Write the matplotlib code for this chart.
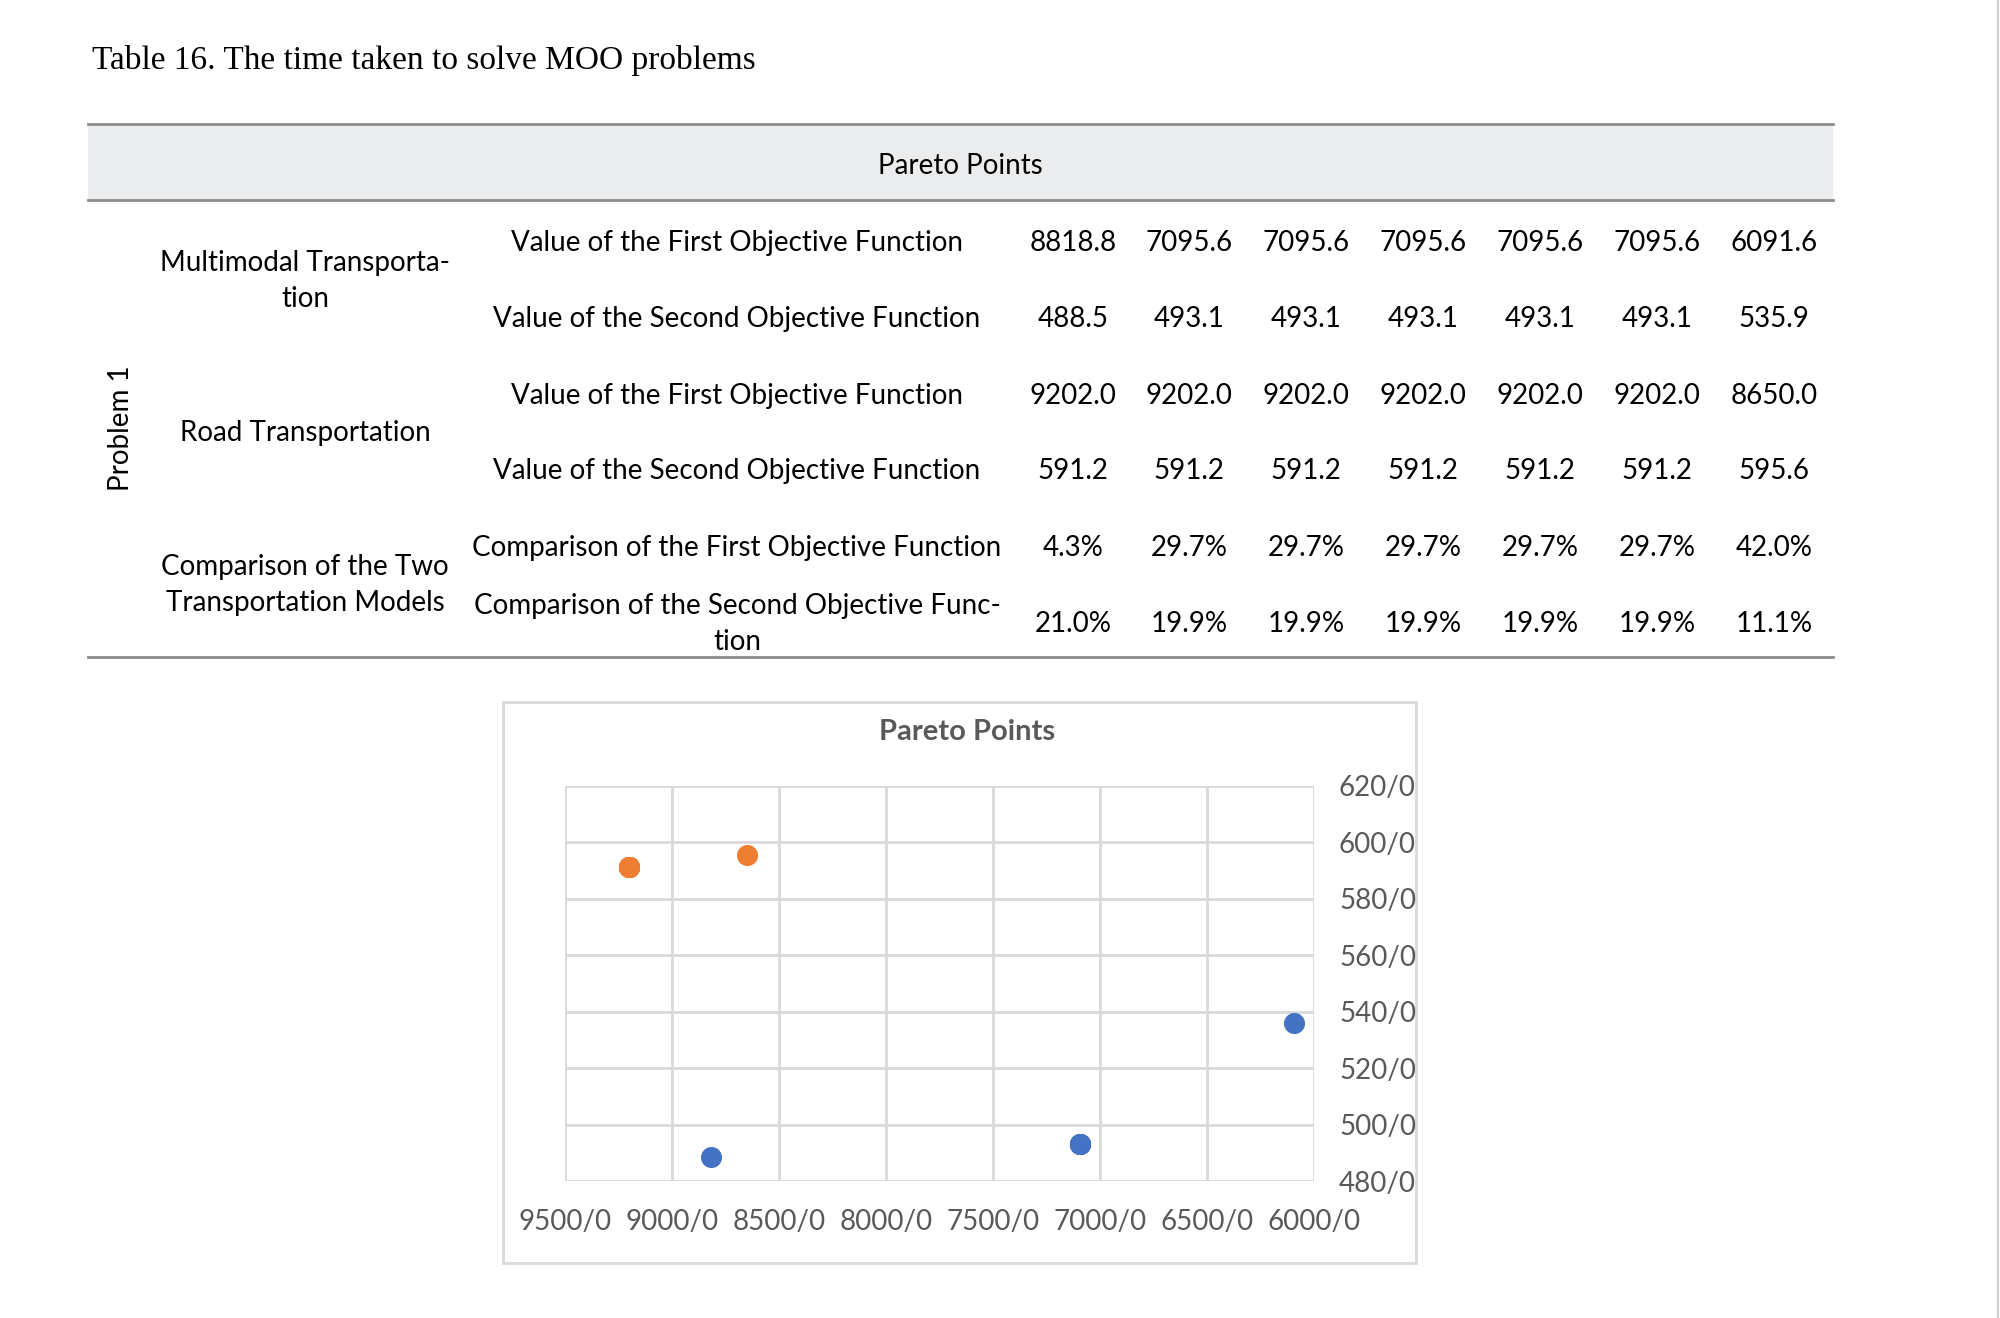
import matplotlib
matplotlib.use("Agg")
import matplotlib.pyplot as plt
from matplotlib.patches import Rectangle
from matplotlib.lines import Line2D

# table content
title = "Table 16. The time taken to solve MOO problems"
header = "Pareto Points"
side_label = "Problem 1"
group_labels = ["Multimodal Transporta-\ntion", "Road Transportation",
                "Comparison of the Two\nTransportation Models"]
row_labels = ["Value of the First Objective Function",
              "Value of the Second Objective Function",
              "Value of the First Objective Function",
              "Value of the Second Objective Function",
              "Comparison of the First Objective Function",
              "Comparison of the Second Objective Func-\ntion"]

multimodal_f1 = [8818.8, 7095.6, 7095.6, 7095.6, 7095.6, 7095.6, 6091.6]
multimodal_f2 = [488.5, 493.1, 493.1, 493.1, 493.1, 493.1, 535.9]
road_f1 = [9202.0, 9202.0, 9202.0, 9202.0, 9202.0, 9202.0, 8650.0]
road_f2 = [591.2, 591.2, 591.2, 591.2, 591.2, 591.2, 595.6]
cmp_f1 = [4.3, 29.7, 29.7, 29.7, 29.7, 29.7, 42.0]
cmp_f2 = [21.0, 19.9, 19.9, 19.9, 19.9, 19.9, 11.1]

x_ticks = [9500, 9000, 8500, 8000, 7500, 7000, 6500, 6000]
y_ticks = [480, 500, 520, 540, 560, 580, 600, 620]

W, H = 2000, 1318
fig = plt.figure(figsize=(20, 13.18), dpi=100)

def fx(x):
    return x / W

def fy(y):
    return 1 - y / H

sans = "Lato"
serif = "Liberation Serif"
tsize = 20

fig.text(fx(92), fy(61), title, family=serif, fontsize=24, va="center", ha="left")

# header band and rules
fig.patches.append(Rectangle((fx(88), fy(200)), fx(1833) - fx(88), fy(124) - fy(200),
                             transform=fig.transFigure, facecolor="#ebecee", edgecolor="none"))
for yy in [124, 200, 657]:
    fig.lines.append(Line2D([fx(88), fx(1833)], [fy(yy), fy(yy)], transform=fig.transFigure,
                            color="#8c8c8c", lw=2))
fig.text(fx(960), fy(166), header, family=sans, fontsize=tsize, ha="center", va="center")

fig.text(fx(121), fy(428), side_label, family=sans, fontsize=tsize, rotation=90,
         ha="center", va="center")

group_y = [281, 433, 585]
for lab, yy in zip(group_labels, group_y):
    fig.text(fx(305), fy(yy), lab, family=sans, fontsize=tsize, ha="center", va="center",
             linespacing=1.45)

row_y = [243, 319, 396, 471, 548, 624]
for lab, yy in zip(row_labels, row_y):
    fig.text(fx(737), fy(yy), lab, family=sans, fontsize=tsize, ha="center", va="center",
             linespacing=1.45)

col_x = [1073, 1189, 1306, 1423, 1540, 1657, 1774]
rows = [[f"{v:.1f}" for v in multimodal_f1],
        [f"{v:.1f}" for v in multimodal_f2],
        [f"{v:.1f}" for v in road_f1],
        [f"{v:.1f}" for v in road_f2],
        [f"{v:.1f}%" for v in cmp_f1],
        [f"{v:.1f}%" for v in cmp_f2]]
for vals, yy in zip(rows, row_y):
    for v, xx in zip(vals, col_x):
        fig.text(fx(xx), fy(yy), v, family=sans, fontsize=tsize, ha="center", va="center")

# chart frame
fig.patches.append(Rectangle((fx(503), fy(1263)), fx(1416) - fx(503), fy(702) - fy(1263),
                             transform=fig.transFigure, facecolor="white", edgecolor="#d9d9d9",
                             lw=2, zorder=-1))
fig.text(fx(967), fy(732), "Pareto Points", family=sans, fontsize=21, fontweight="bold",
         color="#595959", ha="center", va="center")

ax = fig.add_axes([fx(565), fy(1181), fx(1314) - fx(565), fy(786) - fy(1181)])
ax.patch.set_alpha(0)
ax.scatter(multimodal_f1, multimodal_f2, s=200, color="#4472c4", zorder=3)
ax.scatter(road_f1, road_f2, s=200, color="#ed7d31", zorder=3)
ax.set_xlim(9500, 6000)
ax.set_ylim(480, 620)
ax.set_xticks(x_ticks)
ax.set_yticks(y_ticks)
ax.set_xticklabels([f"{t}/0" for t in x_ticks])
ax.set_yticklabels([f"{t}/0" for t in y_ticks])
ax.yaxis.tick_right()
ax.tick_params(length=0, labelsize=20, labelcolor="#595959")
ax.tick_params(axis="x", pad=20)
ax.tick_params(axis="y", pad=18)
for lab in ax.get_xticklabels() + ax.get_yticklabels():
    lab.set_family(sans)
ax.grid(True, color="#d9d9d9", lw=2)
ax.set_axisbelow(True)
for sp in ax.spines.values():
    sp.set_visible(False)

# thin edge at the right border
fig.lines.append(Line2D([fx(1998), fx(1998)], [0, 1], transform=fig.transFigure,
                        color="#d0d0d0", lw=1.5))

fig.savefig("out.png", dpi=100)
